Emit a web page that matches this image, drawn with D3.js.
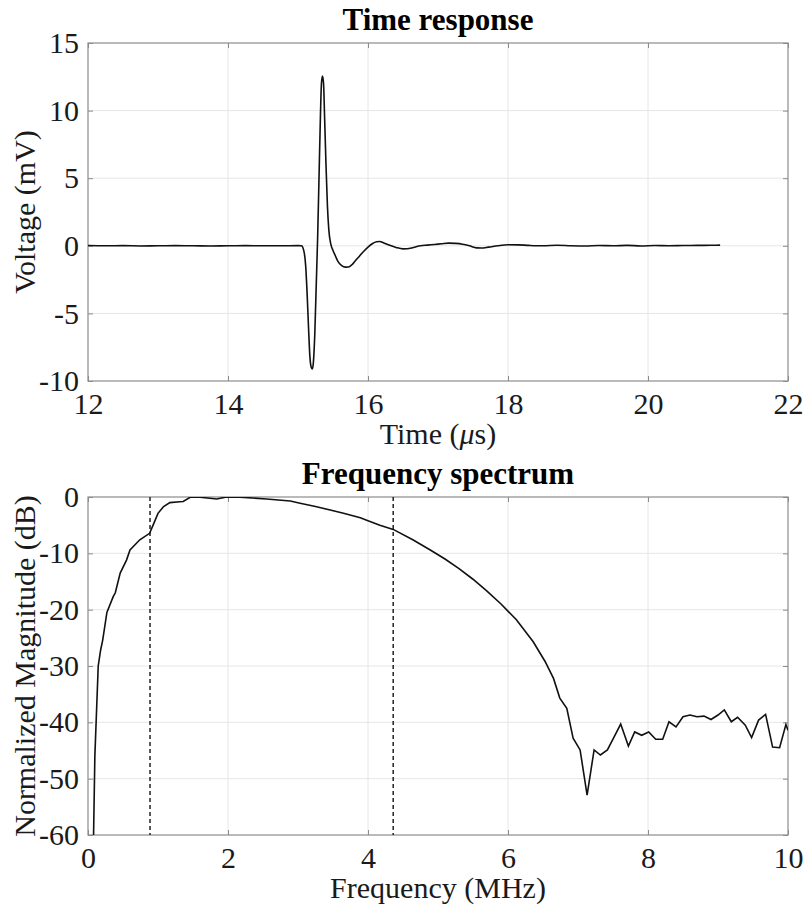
<!DOCTYPE html>
<html>
<head>
<meta charset="utf-8">
<script src="https://cdn.jsdelivr.net/npm/d3@7"></script>
<style>
  body { margin: 0; background: #fff; }
  svg { display: block; }
  svg text { font-family: "Liberation Serif", "Times New Roman", serif !important; }
</style>
</head>
<body>
<svg width="806" height="911"></svg>
<script>
// time response (us, mV)
var timeUs = [12.0, 12.25, 12.5, 12.75, 13.0, 13.25, 13.5, 13.75, 14.0, 14.25, 14.5, 14.75, 15.0, 15.05,
  15.08, 15.11, 15.13, 15.15, 15.17, 15.19, 15.205, 15.22, 15.24, 15.26, 15.28, 15.30, 15.32, 15.335,
  15.35, 15.365, 15.38, 15.40, 15.42, 15.44, 15.47, 15.50, 15.53, 15.57, 15.62, 15.68, 15.72, 15.77,
  15.82, 15.88, 15.94, 16.00, 16.06, 16.12, 16.17, 16.22, 16.30, 16.40, 16.50, 16.56, 16.65, 16.75,
  16.85, 16.95, 17.05, 17.15, 17.25, 17.35, 17.45, 17.55, 17.62, 17.72, 17.85, 18.0, 18.15, 18.3,
  18.5, 18.7, 18.9, 19.1, 19.3, 19.5, 19.7, 19.9, 20.1, 20.3, 20.5, 20.7, 20.9, 21.03];
var voltage = [0.02, 0.0, 0.01, -0.01, 0.0, 0.01, 0.0, -0.01, 0.0, 0.01, 0.0, 0.0, 0.01, 0.0,
  -0.3, -1.5, -3.5, -6.0, -8.2, -9.0, -9.1, -8.6, -6.5, -3.0, 0.5, 5.0, 9.5, 12.0,
  12.55, 12.0, 9.5, 6.0, 3.0, 1.2, 0.1, -0.35, -0.7, -1.15, -1.45, -1.58, -1.57, -1.4,
  -1.1, -0.75, -0.4, -0.1, 0.15, 0.3, 0.32, 0.22, 0.05, -0.12, -0.23, -0.22, -0.12, 0.0,
  0.05, 0.1, 0.15, 0.2, 0.18, 0.12, 0.0, -0.15, -0.16, -0.1, 0.0, 0.08, 0.07, 0.03,
  0.0, 0.04, 0.0, -0.02, 0.02, 0.0, 0.03, -0.01, 0.02, 0.0, 0.02, 0.03, 0.04, 0.05];

// frequency spectrum (MHz, dB)
var freqMHz = [0.073, 0.098, 0.146, 0.18, 0.21, 0.27, 0.36, 0.39, 0.46, 0.55, 0.6, 0.74, 0.88, 0.93,
  1.0, 1.08, 1.17, 1.31, 1.36, 1.46, 1.6, 1.84, 1.98, 2.17, 2.55, 2.89, 3.03, 3.25, 3.46, 3.65, 3.89, 4.0, 4.17,
  4.36, 4.64, 4.89, 5.1, 5.3, 5.5, 5.7, 5.9, 6.12, 6.36, 6.53, 6.65, 6.74, 6.84, 6.93, 7.03,
  7.13, 7.23, 7.32, 7.42, 7.52, 7.61, 7.72, 7.81, 7.91, 8.01, 8.11, 8.21, 8.30, 8.40, 8.50,
  8.60, 8.70, 8.80, 8.90, 9.00, 9.09, 9.19, 9.28, 9.39, 9.48, 9.58, 9.68, 9.78, 9.88, 9.97, 10.0];
var magnitudeDb = [-65, -46, -30, -27.2, -25.4, -20.5, -17.7, -17.0, -13.5, -11.2, -9.4, -7.6, -6.45, -5.0,
  -2.9, -1.7, -1.0, -0.83, -0.8, -0.05, -0.05, -0.35, 0.0, -0.02, -0.35, -0.7, -1.1, -1.7, -2.3, -2.9, -3.7, -4.2, -5.0,
  -5.75, -7.6, -9.4, -11.0, -12.7, -14.6, -16.7, -19.0, -21.8, -25.7, -29.2, -32.2, -35.7, -37.5, -42.8, -44.9,
  -52.9, -44.9, -45.8, -44.9, -42.5, -40.3, -44.2, -41.7, -42.3, -41.7, -43.0, -43.0, -39.9, -40.8, -39.0,
  -38.7, -39.0, -38.9, -39.5, -38.7, -37.8, -39.9, -39.1, -40.5, -42.7, -39.6, -38.6, -44.4, -44.5, -40.4, -41.4];

var bandEdges = [0.886, 4.36];

var timeTicks = [12, 14, 16, 18, 20, 22];
var voltTicks = [-10, -5, 0, 5, 10, 15];
var freqTicks = [0, 2, 4, 6, 8, 10];
var dbTicks = [-60, -50, -40, -30, -20, -10, 0];

var svg = d3.select("svg"),
    left = 88, right = 788,
    w = right - left, h = 338;

function panel(top, xDomain, yDomain, xTicks, yTicks, title, yLabel, xLabelFn, id) {
    var x = d3.scaleLinear().domain(xDomain).range([0, w]),
        y = d3.scaleLinear().domain(yDomain).range([h, 0]);
    var plain = function(d) { return String(d); };

    var g = svg.append("g").attr("transform", "translate(" + left + "," + top + ")");

    g.append("defs").append("clipPath").attr("id", id)
        .append("rect").attr("width", w).attr("height", h);

    // grid
    g.append("g").selectAll("line").data(xTicks.slice(1, -1)).enter().append("line")
        .attr("x1", function(d) { return x(d); }).attr("x2", function(d) { return x(d); })
        .attr("y1", 0).attr("y2", h)
        .style("stroke", "#e6e6e6").style("stroke-width", 1);
    g.append("g").selectAll("line").data(yTicks.slice(1, -1)).enter().append("line")
        .attr("y1", function(d) { return y(d); }).attr("y2", function(d) { return y(d); })
        .attr("x1", 0).attr("x2", w)
        .style("stroke", "#e6e6e6").style("stroke-width", 1);

    // axes with inward ticks on all sides
    var xb = g.append("g").attr("transform", "translate(0," + h + ")")
        .call(d3.axisBottom(x).tickValues(xTicks).tickSize(-5).tickPadding(12).tickFormat(plain));
    var xt = g.append("g").call(d3.axisTop(x).tickValues(xTicks).tickSize(-5).tickFormat(""));
    var yl = g.append("g")
        .call(d3.axisLeft(y).tickValues(yTicks).tickSize(-5).tickPadding(9).tickFormat(plain));
    var yr = g.append("g").attr("transform", "translate(" + w + ",0)")
        .call(d3.axisRight(y).tickValues(yTicks).tickSize(-5).tickFormat(""));
    [xb, xt, yl, yr].forEach(function(a) {
        a.attr("font-family", null).attr("font-size", null);
        a.select(".domain").remove();
        a.selectAll(".tick line").style("stroke", "#8c8c8c");
        a.selectAll("text").style("font-size", "30px").style("fill", "#1a1a1a");
    });

    g.append("rect").attr("width", w).attr("height", h)
        .style("fill", "none").style("stroke", "#8c8c8c").style("stroke-width", 1.2);

    g.append("text")
        .attr("x", w / 2).attr("y", -13)
        .attr("text-anchor", "middle")
        .style("font-size", "31px").style("font-weight", "bold")
        .text(title);

    g.append("text")
        .attr("text-anchor", "middle")
        .attr("transform", "translate(" + (35 - left) + "," + (h / 2) + ")rotate(-90)")
        .style("font-size", "30px").style("fill", "#1a1a1a")
        .text(yLabel);

    var xl = g.append("text")
        .attr("x", w / 2).attr("y", h + 63)
        .attr("text-anchor", "middle")
        .style("font-size", "30px").style("fill", "#1a1a1a");
    xLabelFn(xl);

    return { g: g, x: x, y: y };
}

var p1 = panel(43, [12, 22], [-10, 15], timeTicks, voltTicks, "Time response", "Voltage (mV)",
    function(t) {
        t.append("tspan").text("Time (");
        t.append("tspan").style("font-style", "italic").text("\u03bc");
        t.append("tspan").text("s)");
    }, "clip1");

var timeData = timeUs.map(function(d, i) { return [d, voltage[i]]; });
p1.g.append("path")
    .datum(timeData)
    .attr("clip-path", "url(#clip1)")
    .attr("d", d3.line()
        .x(function(d) { return p1.x(d[0]); })
        .y(function(d) { return p1.y(d[1]); })
        .curve(d3.curveMonotoneX))
    .style("fill", "none")
    .style("stroke", "#111")
    .style("stroke-width", 1.6);

var p2 = panel(497, [0, 10], [-60, 0], freqTicks, dbTicks, "Frequency spectrum", "Normalized Magnitude (dB)",
    function(t) { t.text("Frequency (MHz)"); }, "clip2");

p2.g.append("g").selectAll("line").data(bandEdges).enter().append("line")
    .attr("x1", function(d) { return p2.x(d); }).attr("x2", function(d) { return p2.x(d); })
    .attr("y1", 0).attr("y2", p2.y(-60))
    .style("stroke", "#222")
    .style("stroke-width", 1.5)
    .style("stroke-dasharray", "4,3");

var specData = freqMHz.map(function(d, i) { return [d, magnitudeDb[i]]; });
p2.g.append("path")
    .datum(specData)
    .attr("clip-path", "url(#clip2)")
    .attr("d", d3.line()
        .x(function(d) { return p2.x(d[0]); })
        .y(function(d) { return p2.y(d[1]); }))
    .style("fill", "none")
    .style("stroke", "#111")
    .style("stroke-width", 1.6);
</script>
</body>
</html>
